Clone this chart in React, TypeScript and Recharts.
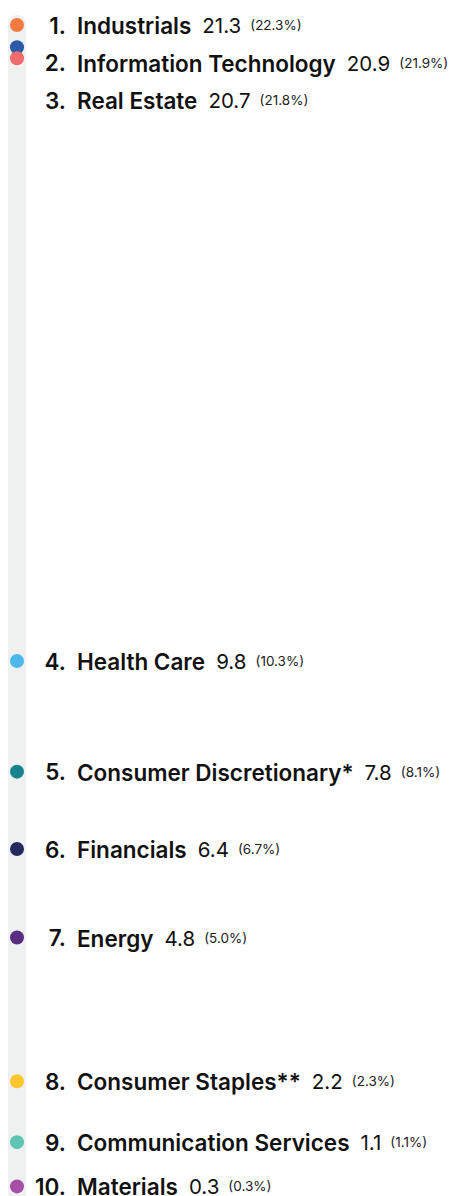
import { ScatterChart, Scatter, XAxis, YAxis, ReferenceArea } from 'recharts'

const SECTORS = [
  'Industrials', 'Information Technology', 'Real Estate', 'Health Care',
  'Consumer Discretionary*', 'Financials', 'Energy', 'Consumer Staples**',
  'Communication Services', 'Materials',
]
const VALUES = [21.3, 20.9, 20.7, 9.8, 7.8, 6.4, 4.8, 2.2, 1.1, 0.3]
const SHARES = ['22.3%', '21.9%', '21.8%', '10.3%', '8.1%', '6.7%', '5.0%', '2.3%', '1.1%', '0.3%']
const COLORS = [
  '#f47b3f', '#2b5ba8', '#f06b6b', '#4db8ea', '#16838d',
  '#222a5e', '#5a2d82', '#fec62e', '#5ec5b3', '#a64fa6',
]

const W = 454
const H = 1210
const TRACK_X = 17
const LABEL_GAP = 0.68 // min spacing between labels, in value units
const FONT = 'Inter, "Open Sans", sans-serif'

// dots
const dots = VALUES.map((v, i) => ({ x: TRACK_X, y: v, color: COLORS[i] }))

// labels pushed down when they'd collide with the one above
const labels: { x: number; y: number; i: number }[] = []
VALUES.forEach((v, i) => {
  const prev = labels[i - 1]
  const y = prev ? Math.min(v, prev.y - LABEL_GAP) : v
  labels.push({ x: TRACK_X, y, i })
})

function Dot(props: any) {
  const { cx, cy, payload } = props
  return <circle cx={cx} cy={cy} r={7} fill={payload.color} />
}

function LabelText(props: any) {
  const { cy, payload } = props
  const i = payload.i
  return (
    <g fontFamily={FONT} fill="#111">
      <text x={66} y={cy} textAnchor="end" dominantBaseline="central" fontSize={22.5} fontWeight={600}>
        {i + 1}.
      </text>
      <text x={77} y={cy} dominantBaseline="central">
        <tspan fontSize={22.5} fontWeight={600}>{SECTORS[i]}</tspan>
        <tspan dx={11} fontSize={20.5} fontWeight={400}>{VALUES[i].toFixed(1)}</tspan>
        <tspan dx={9} fontSize={13.5} fontWeight={400} fill="#222">({SHARES[i]})</tspan>
      </text>
    </g>
  )
}

function Track(props: any) {
  const { x, y, width, height } = props
  return <rect x={x} y={y} width={width} height={height} rx={9} ry={9} fill="#eff0f0" />
}

export default function App() {
  return (
    <div style={{ width: W, height: 1196, overflow: 'hidden' }}>
      <style>{'body{margin:0;overflow:hidden}'}</style>
      <ScatterChart width={W} height={H} margin={{ top: 14, right: 0, bottom: 7, left: 0 }}>
        <XAxis type="number" dataKey="x" domain={[0, W]} hide />
        <YAxis type="number" dataKey="y" domain={[0, 21.5]} hide />
        <ReferenceArea
          x1={TRACK_X - 9}
          x2={TRACK_X + 9}
          y1={0}
          y2={21.48}
          shape={<Track />}
          isFront={false}
        />
        <Scatter data={dots} shape={<Dot />} isAnimationActive={false} />
        <Scatter data={labels} shape={<LabelText />} isAnimationActive={false} />
      </ScatterChart>
    </div>
  )
}
